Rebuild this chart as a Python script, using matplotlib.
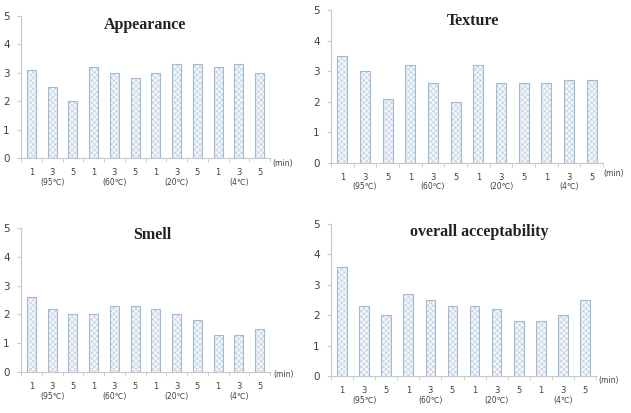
import matplotlib
matplotlib.use("Agg")
import matplotlib.pyplot as plt
import matplotlib.transforms as mtransforms

minutes = ["1", "3", "5"] * 4
groups = ["(95\u2103)", "(60\u2103)", "(20\u2103)", "(4\u2103)"]

appearance = [3.1, 2.5, 2.0, 3.2, 3.0, 2.8, 3.0, 3.3, 3.3, 3.2, 3.3, 3.0]
texture = [3.5, 3.0, 2.1, 3.2, 2.6, 2.0, 3.2, 2.6, 2.6, 2.6, 2.7, 2.7]
smell = [2.6, 2.2, 2.0, 2.0, 2.3, 2.3, 2.2, 2.0, 1.8, 1.3, 1.3, 1.5]
overall = [3.6, 2.3, 2.0, 2.7, 2.5, 2.3, 2.3, 2.2, 1.8, 1.8, 2.0, 2.5]

W, H = 631, 413
fig = plt.figure(figsize=(W / 100, H / 100), dpi=100)
plt.rcParams['hatch.linewidth'] = 0.35

EDGE = "#9dbad8"
HATCH = "#b4c2d2"
SPINE = "#c8c8c8"
TXT = "#404040"

# (title, values, left px, right px, y0 px, y5 px, title x px, title y px, min x px, min y px)
panels = [
    ("Appearance", appearance, 21, 270, 158, 16, 145, 25, 283, 164),
    ("Texture", texture, 331, 603, 163, 10, 473, 21, 614, 174),
    ("Smell", smell, 21, 270, 372, 228, 152, 235, 284, 374),
    ("overall acceptability", overall, 331, 596, 376, 224, 479, 232, 609, 381),
]

for title, vals, l, r, y0, y5, tx, ty, mx, my in panels:
    ax = fig.add_axes([l / W, 1 - y0 / H, (r - l) / W, (y0 - y5) / H])
    x = list(range(len(vals)))
    ax.bar(x, vals, width=0.44, color="#f3f6fa", edgecolor=HATCH, hatch="xxxxxx",
           linewidth=0)
    ax.bar(x, vals, width=0.44, color="none", edgecolor=EDGE, linewidth=0.8)
    ax.set_xlim(-0.5, len(vals) - 0.5)
    ax.set_ylim(0, 5)
    for s in ["top", "right"]:
        ax.spines[s].set_visible(False)
    for s in ["left", "bottom"]:
        ax.spines[s].set_color(SPINE)
        ax.spines[s].set_linewidth(0.8)
    ax.set_yticks(range(6))
    ax.tick_params(axis="y", length=3, color=SPINE, labelsize=7.5, labelcolor=TXT, pad=5)
    ax.set_xticks(x)
    ax.set_xticklabels(minutes)
    ax.set_xticks([i - 0.5 for i in range(len(vals) + 1)], minor=True)
    ax.tick_params(axis="x", which="major", length=0, labelsize=6, labelcolor=TXT, pad=7)
    ax.tick_params(axis="x", which="minor", length=3, color=SPINE)
    trans = mtransforms.blended_transform_factory(ax.transData, ax.transAxes)
    for gi, g in enumerate(groups):
        ax.text(gi * 3 + 1, -24 / (y0 - y5), g, transform=trans, ha="center",
                va="center", fontsize=5.5, color=TXT)
    fig.text(tx / W, 1 - ty / H, title, ha="center", va="center",
             fontsize=11.5, fontweight="bold", family="Liberation Serif", color="#222222")
    fig.text(mx / W, 1 - my / H, "(min)", ha="center", va="center", fontsize=5.5, color=TXT)

fig.savefig("out.png", dpi=100)
